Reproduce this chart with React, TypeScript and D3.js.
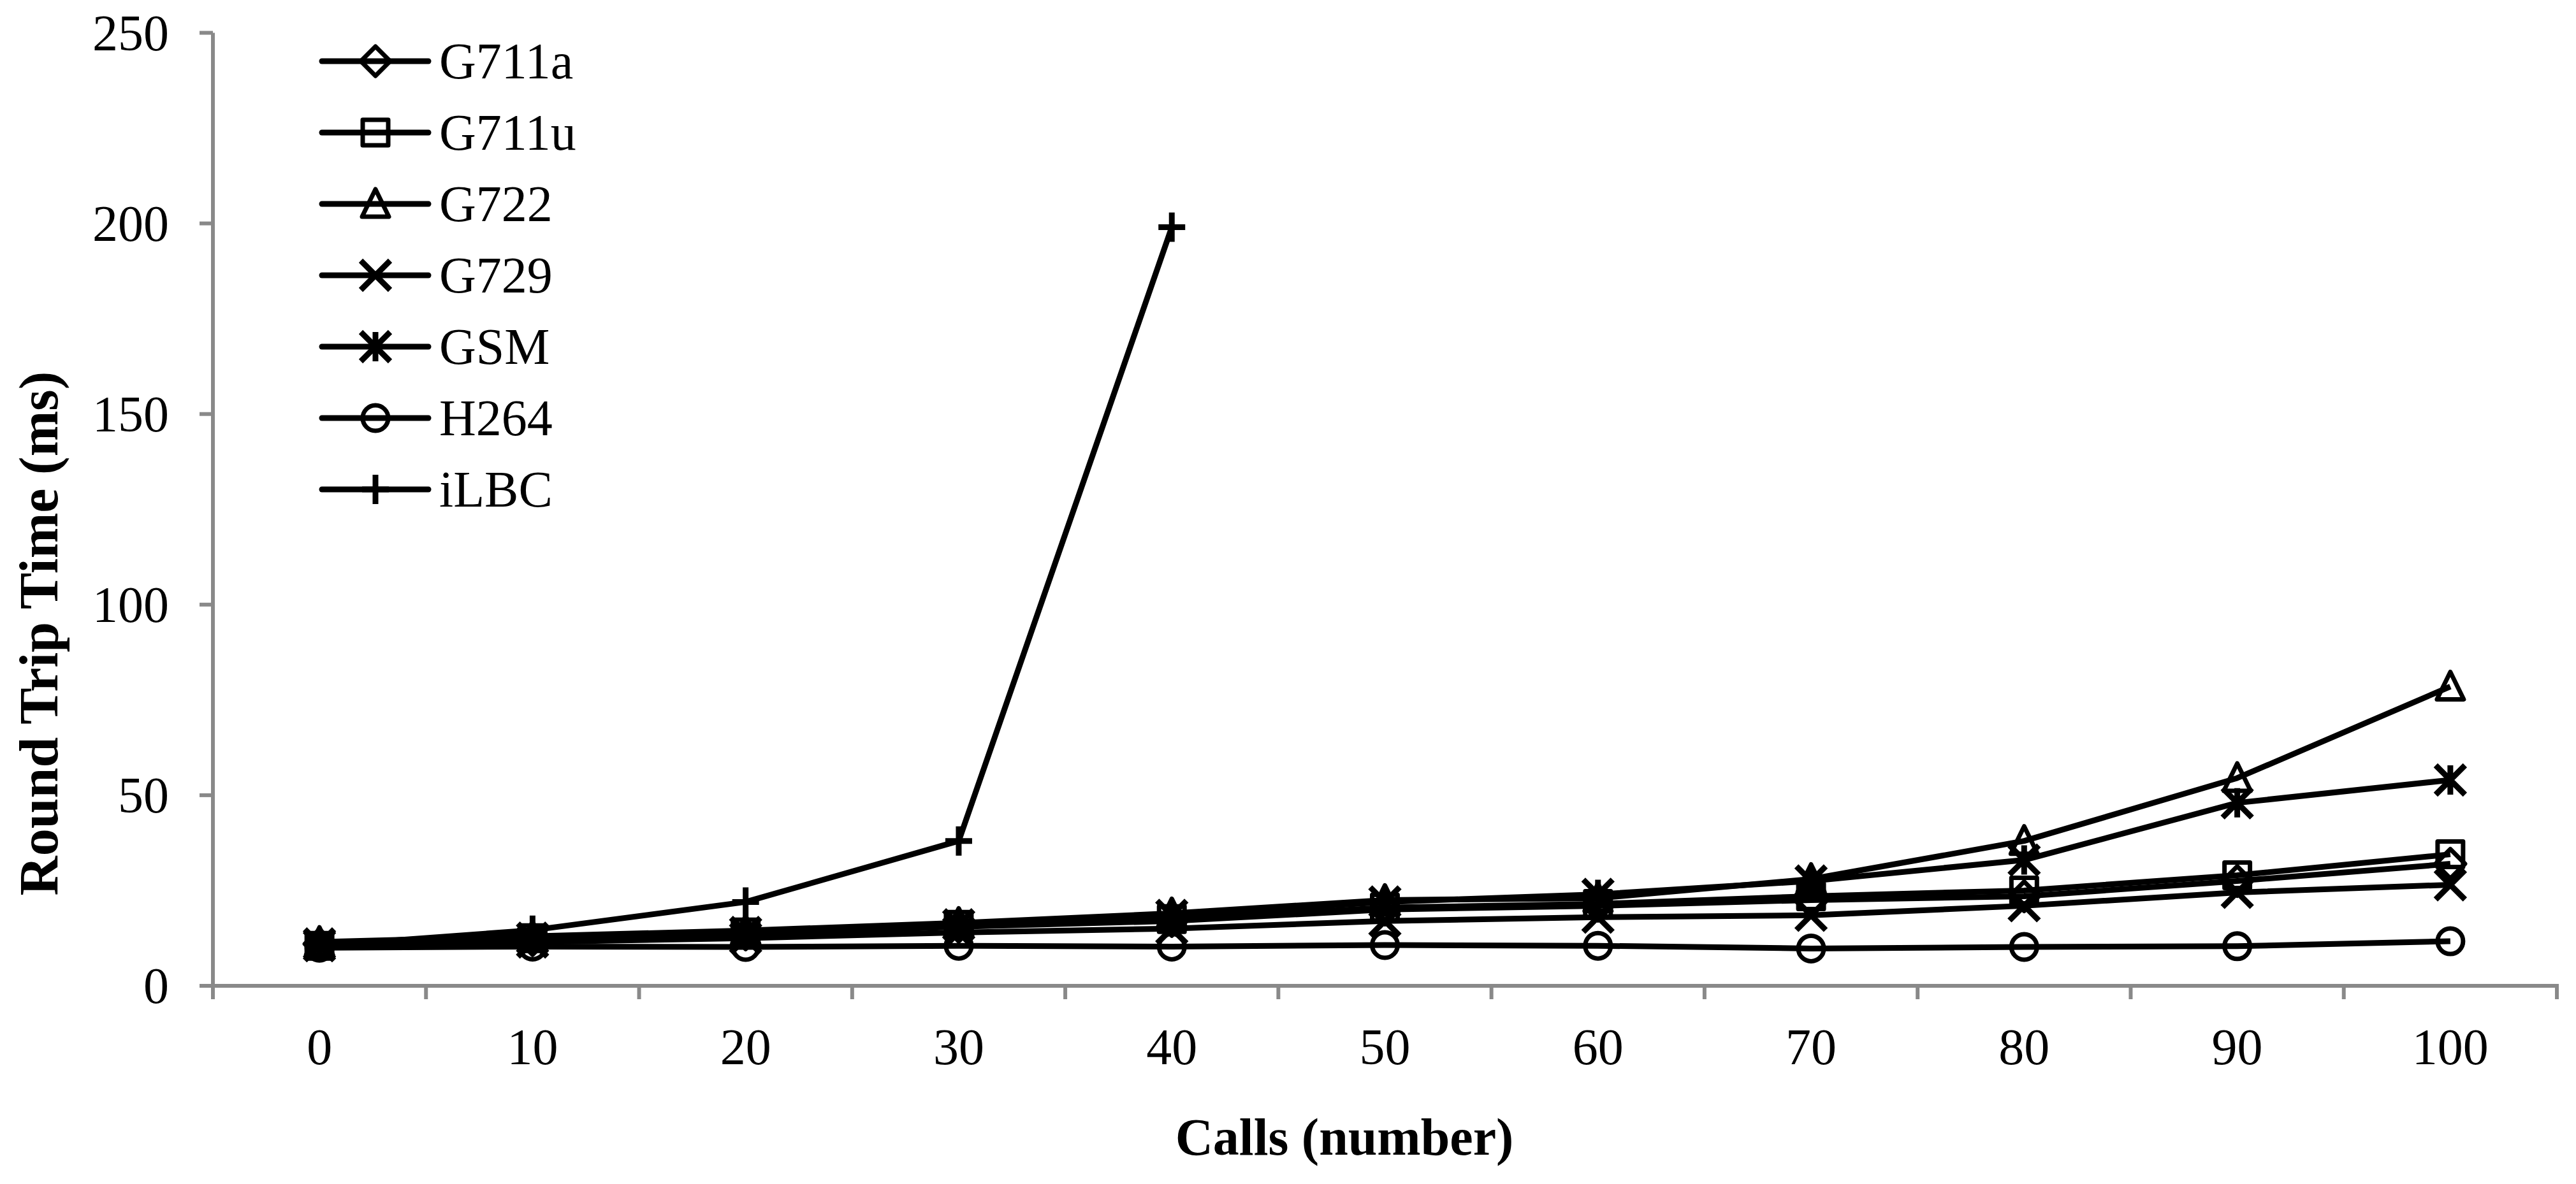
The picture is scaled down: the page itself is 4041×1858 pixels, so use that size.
import React from "react";
import * as d3 from "d3";

const categories = [0, 10, 20, 30, 40, 50, 60, 70, 80, 90, 100];
const yTicks = [0, 50, 100, 150, 200, 250];
const seriesNames = ["G711a", "G711u", "G722", "G729", "GSM", "H264", "iLBC"];
const markerTypes = ["diamond", "square", "triangle", "x", "asterisk", "circle", "plus"];

const G711a = [11, 12, 13.5, 15.5, 17, 20, 21, 22.5, 23.5, 27.5, 32];
const G711u = [10.5, 12.5, 14, 16, 17.5, 20.5, 21.5, 23.5, 25, 29, 34.5];
const G722 = [11.5, 13, 14.5, 16.5, 19, 22.5, 23, 28, 38, 54.5, 78.5];
const G729 = [10.5, 11.5, 12.5, 14, 15, 17, 18, 18.5, 21, 24.5, 26.5];
const GSM = [11, 12.5, 14, 16, 18.5, 22, 24, 27.5, 33, 48, 54];
const H264 = [10, 10.3, 10.2, 10.5, 10.3, 10.7, 10.5, 9.8, 10.2, 10.4, 11.7];
const iLBC = [10.5, 14.6, 22, 38, 199];

const seriesValues = [G711a, G711u, G722, G729, GSM, H264, iLBC];

const W = 4041;
const H = 1858;
const FONT = "'Liberation Serif', 'Times New Roman', serif";
const AXIS = "#898989";

function Marker({ type, cx, cy }: { type: string; cx: number; cy: number }) {
  const r = 23;
  const sw = 7;
  const common = { fill: "none", stroke: "#000", strokeWidth: sw };
  switch (type) {
    case "diamond":
      return <path d={`M${cx},${cy - r}L${cx + r},${cy}L${cx},${cy + r}L${cx - r},${cy}Z`} {...common} strokeLinejoin="round" />;
    case "square":
      return <rect x={cx - r + 3} y={cy - r + 3} width={2 * r - 6} height={2 * r - 6} {...common} strokeLinejoin="round" />;
    case "triangle":
      return <path d={`M${cx},${cy - r}L${cx + r - 2},${cy + r - 3}L${cx - r + 2},${cy + r - 3}Z`} {...common} strokeLinejoin="round" />;
    case "x":
      return <path d={`M${cx - r},${cy - r}L${cx + r},${cy + r}M${cx + r},${cy - r}L${cx - r},${cy + r}`} stroke="#000" strokeWidth={9} fill="none" />;
    case "asterisk":
      return <path d={`M${cx - r},${cy - r}L${cx + r},${cy + r}M${cx + r},${cy - r}L${cx - r},${cy + r}M${cx},${cy - r}L${cx},${cy + r}`} stroke="#000" strokeWidth={9} fill="none" />;
    case "circle":
      return <circle cx={cx} cy={cy} r={r - 3} {...common} />;
    case "plus":
      return <path d={`M${cx - r + 2},${cy}L${cx + r - 2},${cy}M${cx},${cy - r}L${cx},${cy + r}`} stroke="#000" strokeWidth={9} fill="none" />;
    default:
      return null;
  }
}

export default function App() {
  const x = d3.scaleBand<string>().domain(categories.map(String)).range([334, 4011]);
  const bw = x.bandwidth();
  const cxOf = (c: number) => (x(String(c)) as number) + bw / 2;
  const y = d3.scaleLinear().domain([0, 250]).range([1547, 51.5]);

  const line = d3
    .line<number>()
    .x((_, i) => cxOf(categories[i]))
    .y((d) => y(d));

  const boundaries = categories.map((c) => x(String(c)) as number).concat([334 + bw * categories.length]);

  const legendX0 = 505;
  const legendX1 = 672;
  const legendMx = 589;
  const legendTx = 689;
  const legendY0 = 96;
  const legendDy = 112;

  return (
    <>
      <style>{`body{margin:0;background:#fff}`}</style>
      <svg width={W} height={H} style={{ display: "block" }} fontFamily={FONT}>
        <rect x={0} y={0} width={W} height={H} fill="#fff" />
        {/* Y axis */}
        <line x1={334} x2={334} y1={y(250)} y2={y(0)} stroke={AXIS} strokeWidth={6} />
        {yTicks.map((t) => (
          <g key={"yt" + t}>
            <line x1={313} x2={334} y1={y(t)} y2={y(t)} stroke={AXIS} strokeWidth={6} />
            <text x={265} y={y(t) + 27} fontSize={80} textAnchor="end" fill="#000">
              {t}
            </text>
          </g>
        ))}
        {/* X axis */}
        <line x1={331} x2={4014} y1={y(0)} y2={y(0)} stroke={AXIS} strokeWidth={6} />
        {boundaries.map((b, i) => (
          <line key={"xb" + i} x1={b} x2={b} y1={y(0)} y2={y(0) + 21} stroke={AXIS} strokeWidth={6} />
        ))}
        {categories.map((c) => (
          <text key={"xl" + c} x={cxOf(c)} y={1670} fontSize={80} textAnchor="middle" fill="#000">
            {c}
          </text>
        ))}
        {/* Axis titles */}
        <text x={2109} y={1812} fontSize={82} fontWeight="bold" textAnchor="middle" fill="#000">
          Calls (number)
        </text>
        <text
          transform={`translate(90, 994) rotate(-90)`}
          fontSize={86}
          fontWeight="bold"
          textAnchor="middle"
          fill="#000"
        >
          Round Trip Time (ms)
        </text>
        {/* Series lines */}
        {seriesValues.map((vals, si) => (
          <path key={"l" + si} d={line(vals) || ""} fill="none" stroke="#000" strokeWidth={9} strokeLinejoin="round" />
        ))}
        {/* Markers */}
        {seriesValues.map((vals, si) => (
          <g key={"m" + si}>
            {vals.map((v, i) => (
              <Marker key={i} type={markerTypes[si]} cx={cxOf(categories[i])} cy={y(v)} />
            ))}
          </g>
        ))}
        {/* Legend */}
        {seriesNames.map((name, i) => {
          const ly = legendY0 + i * legendDy;
          return (
            <g key={"lg" + name}>
              <line x1={legendX0} x2={legendX1} y1={ly} y2={ly} stroke="#000" strokeWidth={9} strokeLinecap="round" />
              <Marker type={markerTypes[i]} cx={legendMx} cy={ly} />
              <text x={legendTx} y={ly + 27} fontSize={80} fill="#000">
                {name}
              </text>
            </g>
          );
        })}
      </svg>
    </>
  );
}
